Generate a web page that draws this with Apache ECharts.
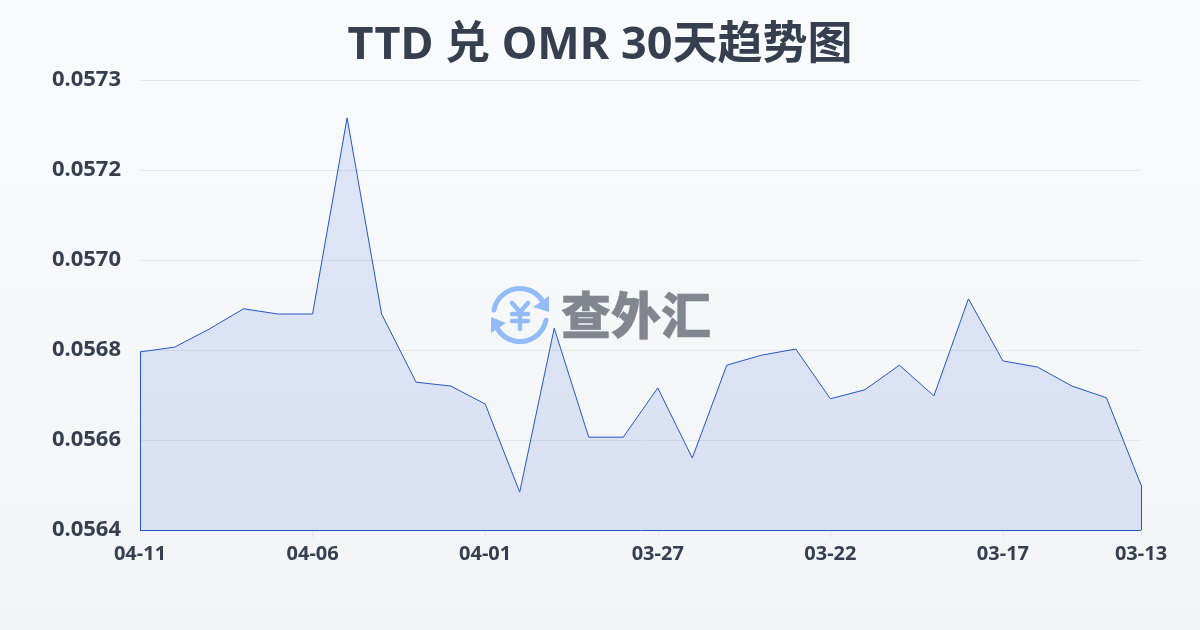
<!DOCTYPE html>
<html><head><meta charset="utf-8">
<style>html,body{margin:0;padding:0;width:1200px;height:630px;overflow:hidden}#c{width:1200px;height:630px}</style>
<script src="https://cdn.jsdelivr.net/npm/echarts@6/dist/echarts.min.js"></script>
</head><body><div id="c"></div>
<script>
const titleText = 'TTD 兑 OMR 30天趋势图';
const dates = ['04-11','04-10','04-09','04-08','04-07','04-06','04-05','04-04','04-03','04-02','04-01','03-31','03-30','03-29','03-28','03-27','03-26','03-25','03-24','03-23','03-22','03-21','03-20','03-19','03-18','03-17','03-16','03-15','03-14','03-13'];
const rates = [0.056776,0.056786,0.056824,0.056867,0.056856,0.056856,0.05727,0.056856,0.056712,0.056704,0.056666,0.05648,0.056826,0.056596,0.056596,0.0567,0.056552,0.056748,0.056769,0.056782,0.056677,0.056696,0.056748,0.056683,0.056888,0.056757,0.056744,0.056704,0.056679,0.056495];
const yTicks = [0.0564,0.05659,0.05678,0.05697,0.05716,0.05735];
const yMin = 0.0564, yMax = 0.05735;
const font = '"Noto Sans","Noto Sans CJK SC",sans-serif';
const lineColor = '#2557c4', textColor = '#363f50';
const last = dates.length - 1;
const edge = (a,b,c,d) => [{xAxis:a,yAxis:b},{xAxis:c,yAxis:d}];
const blue = '#93bbf8';
const yenStroke = {stroke:blue,lineWidth:4.5,fill:null,lineCap:'round',lineJoin:'round'};
const chart = echarts.init(document.getElementById('c'));
chart.setOption({
  animation:false,
  backgroundColor:{type:'linear',x:0,y:0,x2:0,y2:1,colorStops:[{offset:0,color:'#f8fafc'},{offset:1,color:'#f2f4f6'}]},
  title:{text:titleText,left:'center',top:19,textStyle:{fontFamily:font,fontWeight:'bold',fontSize:45,color:textColor}},
  grid:{left:140,right:59,top:80,bottom:100,containLabel:false},
  xAxis:{type:'category',boundaryGap:false,data:dates,
    axisLine:{show:false},
    axisTick:{show:true,length:8,alignWithLabel:true,interval:i=>i%5===0||i===last,lineStyle:{color:'#e5e7eb'}},
    axisLabel:{interval:i=>i%5===0||i===last,margin:14,fontFamily:font,fontWeight:'bold',fontSize:20,color:textColor},
    splitLine:{show:false}},
  yAxis:{type:'value',min:yMin,max:yMax,
    axisLine:{show:false},axisTick:{show:false,customValues:yTicks},
    axisLabel:{customValues:yTicks,margin:19,fontFamily:font,fontWeight:'bold',fontSize:22,color:textColor,formatter:v=>v.toFixed(4)},
    splitLine:{show:true,lineStyle:{color:'#e5e7eb',width:1}}},
  series:[{type:'line',data:rates,symbol:'none',smooth:false,
    lineStyle:{color:lineColor,width:1},
    areaStyle:{color:'rgba(50,100,220,0.19)',origin:'start'},
    markLine:{silent:true,symbol:'none',label:{show:false},animation:false,
      lineStyle:{color:lineColor,width:1,type:'solid'},
      data:[edge(0,yMin,0,rates[0]),edge(0,yMin,last,yMin),edge(last,yMin,last,rates[last])]}}],
  graphic:[
    {type:'arc',z:50,shape:{cx:520,cy:315,r:26.5,startAngle:-2.95,endAngle:-0.55},style:{stroke:blue,lineWidth:5,fill:null,lineCap:'round'}},
    {type:'arc',z:50,shape:{cx:520,cy:315,r:26.5,startAngle:0.2,endAngle:2.6},style:{stroke:blue,lineWidth:5,fill:null,lineCap:'round'}},
    {type:'polygon',z:50,shape:{points:[[549,296],[549,312],[533,307]]},style:{fill:blue}},
    {type:'polygon',z:50,shape:{points:[[491,317],[491,333],[506,323]]},style:{fill:blue}},
    {type:'polyline',z:50,shape:{points:[[512,303],[520,312],[528,303]]},style:yenStroke},
    {type:'polyline',z:50,shape:{points:[[512,314],[528,314]]},style:yenStroke},
    {type:'polyline',z:50,shape:{points:[[512,321],[528,321]]},style:yenStroke},
    {type:'polyline',z:50,shape:{points:[[520,312],[520,329]]},style:yenStroke},
    {type:'text',z:50,style:{text:'查外汇',x:561,y:315,align:'left',verticalAlign:'middle',font:'900 50px "Noto Sans CJK SC",sans-serif',fill:'#82868f',stroke:'#82868f',lineWidth:0.5}}
  ]
});
</script></body></html>
